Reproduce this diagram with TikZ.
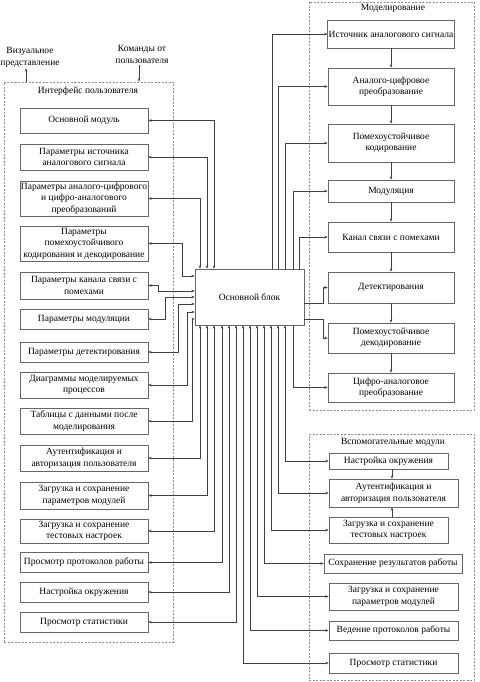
\documentclass[tikz,border=0pt]{standalone}
\usepackage{fontspec}
\setmainfont{Liberation Serif}
\usetikzlibrary{arrows.meta}
\begin{document}
\begin{tikzpicture}[x=1pt,y=-1pt,
  >={Stealth[length=3.2pt,width=2.6pt]},
  box/.style={draw=black!60,line width=0.7pt,fill=white,align=center,inner sep=1pt,
    font=\fontsize{9.5}{11.5}\selectfont},
  lbox/.style={box,minimum width=128pt},
  rbox/.style={box,minimum width=126pt},
  frame/.style={draw=black!45,line width=0.7pt,dash pattern=on 2pt off 1.5pt,inner sep=0pt},
  lbl/.style={align=center,inner sep=1pt,font=\fontsize{9.5}{12}\selectfont},
  con/.style={draw=black!75,line width=0.5pt},
  dbl/.style={con,<->},
  sgl/.style={con,->}]
\useasboundingbox (0,0) rectangle (479,682);
% frames
\node[frame,minimum width=169pt,minimum height=560pt] (UI) at (88.5,362) {};
\node[frame,minimum width=165pt,minimum height=408pt] (MF) at (391.5,206) {};
\node[frame,minimum width=165pt,minimum height=246pt] (AF) at (391.5,557) {};
\node[lbl] (uit) at (88,91) {Интерфейс пользователя};
\node[lbl] (mft) at (393,8) {Моделирование};
\node[lbl] (aft) at (393,442) {Вспомогательные модули};
% top labels
\node[lbl] (vis) at (30,57) {Визуальное\\представление};
\node[lbl] (cmd) at (142,54.5) {Команды от\\пользователя};
\draw[sgl] (UI.north -| 26,0) -- (vis.south -| 26,0);
\draw[sgl] (cmd.south -| 139,0) -- (UI.north -| 139,0);
% main block
\node[box,minimum width=109pt,minimum height=56pt] (M) at (249.5,297) {Основной блок};
% left boxes
\node[lbox,minimum height=25pt] (L1) at (84,120.5) {Основной модуль};
\node[lbox,minimum height=26pt] (L2) at (84,157) {Параметры источника\\аналогового сигнала};
\node[lbox,minimum height=35pt] (L3) at (84,198.5) {Параметры аналого-цифрового\\и цифро-аналогового\\преобразований};
\node[lbox,minimum height=35pt] (L4) at (84,243.5) {Параметры\\помехоустойчивого\\кодирования и декодирование};
\node[lbox,minimum height=27pt] (L5) at (84,285.5) {Параметры канала связи с\\помехами};
\node[lbox,minimum height=20pt] (L6) at (84,319) {Параметры модуляции};
\node[lbox,minimum height=20pt] (L7) at (84,352) {Параметры детектирования};
\node[lbox,minimum height=26pt] (L8) at (84,385) {Диаграммы моделируемых\\процессов};
\node[lbox,minimum height=26pt] (L9) at (84,421) {Таблицы с данными после\\моделирования};
\node[lbox,minimum height=26pt] (L10) at (84,458) {Аутентификация и\\авторизация пользователя};
\node[lbox,minimum height=27pt] (L11) at (84,495.5) {Загрузка и сохранение\\параметров модулей};
\node[lbox,minimum height=24pt] (L12) at (84,531) {Загрузка и сохранение\\тестовых настроек};
\node[lbox,minimum height=20pt] (L13) at (84,562.5) {Просмотр протоколов работы};
\node[lbox,minimum height=20pt] (L14) at (84,592) {Настройка окружения};
\node[lbox,minimum height=20pt] (L15) at (84,622) {Просмотр статистики};
% modelling boxes
\node[rbox,minimum height=28pt] (R1) at (391,34) {Источник аналогового сигнала};
\node[rbox,minimum height=37pt] (R2) at (391,86.5) {Аналого-цифровое\\преобразование};
\node[rbox,minimum height=38pt] (R3) at (391,143) {Помехоустойчивое\\кодирование};
\node[rbox,minimum height=22pt] (R4) at (391,191) {Модуляция};
\node[rbox,minimum height=30pt] (R5) at (391,237) {Канал связи с помехами};
\node[rbox,minimum height=31pt] (R6) at (391,287.5) {Детектирования};
\node[rbox,minimum height=30pt] (R7) at (391,338) {Помехоустойчивое\\декодирование};
\node[rbox,minimum height=29pt] (R8) at (391,387.5) {Цифро-аналоговое\\преобразование};
% auxiliary boxes
\node[box,minimum width=119pt,minimum height=16pt] (A1) at (388.5,461) {Настройка окружения};
\node[box,minimum width=129pt,minimum height=28pt] (A2) at (393.5,493) {Аутентификация и\\авторизация пользователя};
\node[box,minimum width=119pt,minimum height=26pt] (A3) at (388.5,530) {Загрузка и сохранение\\тестовых настроек};
\node[box,minimum width=138pt,minimum height=19pt] (A4) at (393,563.5) {Сохранение результатов работы};
\node[box,minimum width=129pt,minimum height=27pt] (A5) at (393.5,596.5) {Загрузка и сохранение\\параметров модулей};
\node[box,minimum width=129pt,minimum height=19pt] (A6) at (393.5,630.5) {Ведение протоколов работы};
\node[box,minimum width=129pt,minimum height=20pt] (A7) at (393.5,663) {Просмотр статистики};
% chain arrows
\foreach \a/\b in {R1/R2,R2/R3,R3/R4,R4/R5,R5/R6,R6/R7,R7/R8}
  \draw[sgl] (\a.south) -- (\b.north);
\draw[sgl] (A1.south -| 392,0) -- (A2.north -| 392,0);
\draw[sgl] (A3.north -| 392,0) -- (A2.south -| 392,0);
% left connectors: top
\draw[dbl] (L1.east) -| (M.north -| 214,0);
\draw[dbl] (L2.east) -| (M.north -| 207,0);
\draw[dbl] (L3.east) -| (M.north -| 200,0);
% left connectors: side
\draw[dbl] (L4.east) -| (182,276) -- (M.west |- 0,276);
\draw[dbl] (L5.east) -| (158,291) -- (M.west |- 0,291);
\draw[dbl] (L6.east) -| (165,297) -- (M.west |- 0,297);
\draw[dbl] (L7.east) -| (178,304) -- (M.west |- 0,304);
\draw[dbl] (L8.east) -| (187,312) -- (M.west |- 0,312);
\draw[dbl] (L9.east) -| (192,319) -- (M.west |- 0,319);
% left connectors: bottom
\draw[dbl] (L10.east) -| (M.south -| 200,0);
\draw[dbl] (L11.east) -| (M.south -| 207,0);
\draw[dbl] (L12.east) -| (M.south -| 214,0);
\draw[dbl] (L13.east) -| (M.south -| 222,0);
\draw[dbl] (L14.east) -| (M.south -| 229,0);
\draw[dbl] (L15.east) -| (M.south -| 236,0);
% modelling connectors
\draw[sgl] (M.north -| 272,0) |- (R1.west);
\draw[sgl] (M.north -| 278,0) |- (R2.west);
\draw[sgl] (M.north -| 285,0) |- (R3.west);
\draw[sgl] (M.north -| 293,0) |- (R4.west);
\draw[sgl] (M.north -| 299,0) |- (R5.west);
\draw[sgl] (M.east |- 0,303) -- (323,303) |- (R6.west);
\draw[sgl] (M.east |- 0,319) -- (323,319) |- (R7.west);
\draw[sgl] (M.south -| 293,0) |- (R8.west);
% auxiliary connectors
\draw[dbl] (M.south -| 285,0) |- (A1.west);
\draw[dbl] (M.south -| 278,0) |- (A2.west);
\draw[dbl] (M.south -| 271,0) |- (A3.west);
\draw[dbl] (M.south -| 264,0) |- (A4.west);
\draw[dbl] (M.south -| 257,0) |- (A5.west);
\draw[dbl] (M.south -| 250,0) |- (A6.west);
\draw[dbl] (M.south -| 243,0) |- (A7.west);
\end{tikzpicture}
\end{document}
